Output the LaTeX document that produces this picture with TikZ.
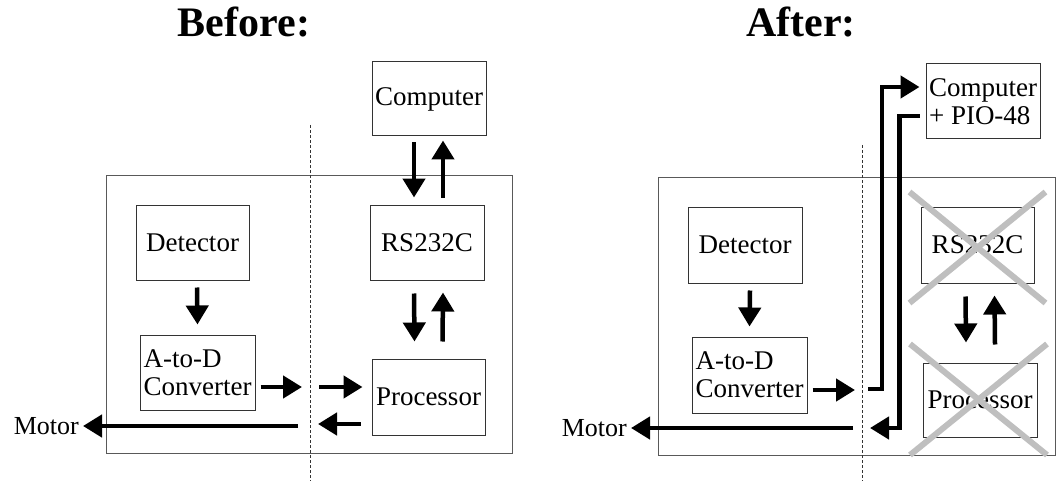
\documentclass[tikz,border=0pt]{standalone}
\usepackage{fontspec}
\setmainfont{Liberation Serif}
\usetikzlibrary{arrows.meta}

\tikzset{
  unit/.style={draw=black!80, line width=1pt, inner sep=2pt, font=\fontsize{27}{28}\selectfont},
  flow/.style={line width=4.5pt, -{Triangle[length=19pt,width=22pt]}},
  frame/.style={draw=black!65, line width=1pt},
  divider/.style={black!80, line width=0.8pt, dash pattern=on 3pt off 2pt},
  cross/.style={black!25, line width=6pt},
  heading/.style={font=\bfseries\fontsize{42}{44}\selectfont, anchor=base}
}

\begin{document}
\begin{tikzpicture}[x=1pt, y=-1pt]
\useasboundingbox (0,0) rectangle (1056,481);

% Before
\node[heading] (titleL) at (244,37) {Before:};
\draw[frame] (106,175) rectangle (512,453);
\draw[divider] (310,125) -- (310,481);

\node[unit, minimum width=113pt, minimum height=75pt] (detL) at (192.5,242.5) {Detector};
\node[unit, minimum width=115pt, minimum height=75pt, align=left] (adcL) at (197.5,372.5) {A-to-D\\Converter};
\node[unit, minimum width=114pt, minimum height=74pt] (compL) at (429,99) {Computer};
\node[unit, minimum width=114pt, minimum height=75pt] (rsL) at (427,242.5) {RS232C};
\node[unit, minimum width=113pt, minimum height=76pt] (procL) at (428.5,397) {Processor};
\node[font=\fontsize{26}{28}\selectfont, anchor=east, inner sep=0pt] (motorL) at (79,426) {Motor};

\draw[flow] ([xshift=4.5pt,yshift=-7pt]detL.south) -- ([yshift=10pt]adcL.north);
\draw[flow] ([xshift=-15pt,yshift=-6pt]compL.south) -- ([xshift=-13pt,yshift=7pt]rsL.north);
\draw[flow] ([xshift=16pt,yshift=7pt]rsL.north) -- ([xshift=14pt,yshift=-4pt]compL.south);
\draw[flow] ([xshift=-13pt,yshift=-13pt]rsL.south) -- ([xshift=-14pt,yshift=17pt]procL.north);
\draw[flow] ([xshift=14pt,yshift=17pt]procL.north) -- ([xshift=16pt,yshift=-12pt]rsL.south);
\coordinate (toBusL) at (302,387);
\coordinate (fromBusL) at (319,387);
\coordinate (backL) at (318,424);
\coordinate (motorOutL) at (298,426);
\draw[flow] ([xshift=5pt,yshift=-14.5pt]adcL.east) -- (toBusL);
\draw[flow] (fromBusL) -- ([xshift=-9pt,yshift=10pt]procL.west);
\draw[flow] ([xshift=-11pt,yshift=-27pt]procL.west) -- (backL);
\draw[flow] (motorOutL) -- ([xshift=4pt]motorL.east);

% After
\node[heading] (titleR) at (801,37) {After:};
\draw[frame] (658,177) rectangle (1055,455);
\draw[divider] (862,145) -- (862,481);

\node[unit, minimum width=114pt, minimum height=76pt] (detR) at (745,245) {Detector};
\node[unit, minimum width=115pt, minimum height=76pt, align=left] (adcR) at (749.5,375) {A-to-D\\Converter};
\node[unit, minimum width=114pt, minimum height=75pt, align=left] (compR) at (983,101.5) {Computer\\+ PIO-48};
\node[unit, minimum width=113pt, minimum height=76pt] (rsR) at (977.5,245) {RS232C};
\node[unit, minimum width=114pt, minimum height=74pt] (procR) at (980,400) {Processor};
\node[font=\fontsize{26}{28}\selectfont, anchor=east, inner sep=0pt] (motorR) at (627,428) {Motor};

\draw[flow] ([xshift=5pt,yshift=-7pt]detR.south) -- ([yshift=10pt]adcR.north);
\draw[flow] ([xshift=-12pt,yshift=-13pt]rsR.south) -- ([xshift=-14pt,yshift=20pt]procR.north);
\draw[flow] ([xshift=15pt,yshift=18pt]procR.north) -- ([xshift=17pt,yshift=-12pt]rsR.south);
\coordinate (toBusR) at (855,390);
\coordinate (upR) at (868,389);
\coordinate (backR) at (870,428);
\coordinate (motorOutR) at (853,428);
\draw[flow] ([xshift=5pt,yshift=-15pt]adcR.east) -- (toBusR);
\draw[flow] (upR) -- ++(14,0) |- ([xshift=-6pt,yshift=14.5pt]compR.west);
\draw[flow] ([xshift=-6pt,yshift=-14.5pt]compR.west) -- ++(-20,0) |- (backR);
\draw[flow] (motorOutR) -- ([xshift=4pt]motorR.east);

% crossed out
\draw[cross] ([shift={(-68pt,53pt)}]rsR.center) -- ([shift={(68pt,-58pt)}]rsR.center);
\draw[cross] ([shift={(68pt,53pt)}]rsR.center) -- ([shift={(-68pt,-58pt)}]rsR.center);
\draw[cross] ([shift={(-70pt,56pt)}]procR.center) -- ([shift={(67pt,-55pt)}]procR.center);
\draw[cross] ([shift={(67pt,56pt)}]procR.center) -- ([shift={(-70pt,-55pt)}]procR.center);

\end{tikzpicture}
\end{document}
